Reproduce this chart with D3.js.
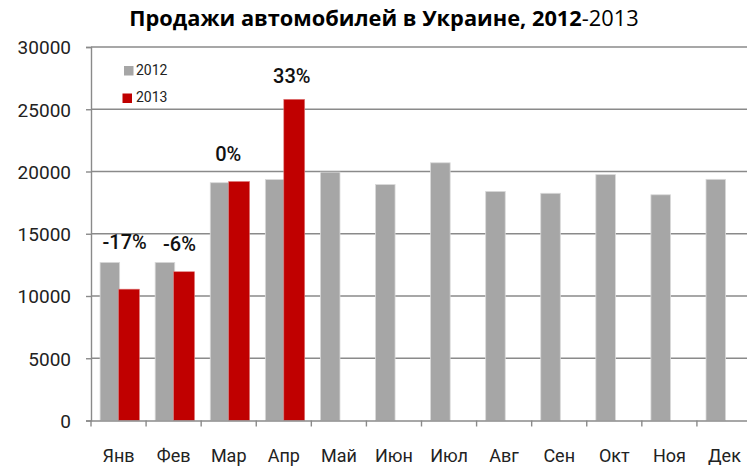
<!DOCTYPE html>
<html>
<head>
<meta charset="utf-8">
<script src="https://cdn.jsdelivr.net/npm/d3@7"></script>
<style>
  body { margin: 0; background: #fff; }
  svg { display: block; }
</style>
</head>
<body>
<div id="chart"></div>
<script>
// Данные
const months = ["Янв", "Фев", "Мар", "Апр", "Май", "Июн", "Июл", "Авг", "Сен", "Окт", "Ноя", "Дек"];
const sales2012 = [12700, 12700, 19100, 19350, 19950, 18950, 20700, 18400, 18250, 19750, 18130, 19370];
const sales2013 = [10550, 11950, 19200, 25800];
const changeLabels = ["-17%", "-6%", "0%", "33%"];
const yTicks = [0, 5000, 10000, 15000, 20000, 25000, 30000];

// Размеры
const W = 747, H = 470;
const plotLeft = 91, plotRight = 752, plotTop = 47, plotBottom = 420.5;

// ручные сдвиги подписей процентов (dx от начала категории, dy над баром)
const labelNudge = [[33.7, 13.7], [33.4, 11], [27.1, 20.3], [35.5, 16.6]];

const svg = d3.select("#chart")
    .append("svg")
    .attr("width", W)
    .attr("height", H);

const x = d3.scaleBand()
    .domain(months)
    .range([plotLeft, plotRight])
    .padding(0);

const y = d3.scaleLinear()
    .domain([0, 30000])
    .range([plotBottom, plotTop]);

const bw = x.bandwidth();

// Сетка
svg.append("g")
    .selectAll("line")
    .data(yTicks.filter(d => d > 0))
    .enter()
    .append("line")
    .attr("x1", plotLeft)
    .attr("x2", W)
    .attr("y1", d => y(d))
    .attr("y2", d => y(d))
    .attr("stroke", "#8a8a8a")
    .attr("stroke-width", 1.4);

// Бары 2012
svg.selectAll(".bar2012")
    .data(sales2012)
    .enter()
    .append("rect")
    .attr("class", "bar2012")
    .attr("x", (d, i) => x(months[i]) + bw * 0.165)
    .attr("width", bw * 0.355)
    .attr("y", d => y(d))
    .attr("height", d => plotBottom - y(d))
    .attr("fill", "#a6a6a6")
    .attr("stroke", "#d9d9d9")
    .attr("stroke-width", 0.8);

// Бары 2013
svg.selectAll(".bar2013")
    .data(sales2013)
    .enter()
    .append("rect")
    .attr("class", "bar2013")
    .attr("x", (d, i) => x(months[i]) + bw * 0.5)
    .attr("width", bw * 0.38)
    .attr("y", d => y(d))
    .attr("height", d => plotBottom - y(d))
    .attr("fill", "#c00000")
    .attr("stroke", "#e08080")
    .attr("stroke-width", 0.6);

// Ось Y
const yAxis = svg.append("g")
    .attr("transform", `translate(${plotLeft},0)`)
    .call(d3.axisLeft(y).tickValues(yTicks).tickSize(5).tickPadding(15).tickFormat(d3.format("d")));
yAxis.select(".domain").attr("stroke", "#8a8a8a").attr("stroke-width", 1.4);
yAxis.selectAll(".tick line").attr("stroke", "#8a8a8a").attr("stroke-width", 1.4);
yAxis.selectAll("text")
    .attr("font-family", "Roboto, sans-serif")
    .attr("font-size", "19px")
    .attr("fill", "#222")
    .attr("dy", "0.36em");

// Ось X
const xAxis = svg.append("g")
    .attr("transform", `translate(0,${plotBottom})`)
    .call(d3.axisBottom(x).tickSize(0).tickPadding(29));
xAxis.select(".domain").attr("stroke", "#8a8a8a").attr("stroke-width", 1.4);
xAxis.selectAll("text")
    .attr("font-family", "Roboto, sans-serif")
    .attr("font-size", "18px")
    .attr("fill", "#222");

// Засечки между категориями
svg.append("g")
    .selectAll("line")
    .data(months)
    .enter()
    .append("line")
    .attr("x1", d => x(d))
    .attr("x2", d => x(d))
    .attr("y1", plotBottom)
    .attr("y2", plotBottom + 6)
    .attr("stroke", "#8a8a8a")
    .attr("stroke-width", 1.4);

// Подписи процентов
svg.selectAll(".pct")
    .data(changeLabels)
    .enter()
    .append("text")
    .attr("class", "pct")
    .attr("x", (d, i) => x(months[i]) + labelNudge[i][0])
    .attr("y", (d, i) => y(Math.max(sales2012[i], sales2013[i])) - labelNudge[i][1])
    .attr("text-anchor", "middle")
    .attr("font-family", "Roboto, sans-serif")
    .attr("font-size", "20px")
    .attr("font-weight", 500)
    .attr("fill", "#111")
    .text(d => d);

// Заголовок
const title = svg.append("text")
    .attr("x", 384)
    .attr("y", 26)
    .attr("text-anchor", "middle")
    .attr("font-family", "'Open Sans', sans-serif")
    .attr("font-size", "21.8px")
    .attr("fill", "#000");
title.append("tspan").attr("font-weight", "bold").text("Продажи автомобилей в Украине, 2012");
title.append("tspan").text("-2013");

// Легенда
const legend = [
    { name: "2012", color: "#a6a6a6", x: 124, y: 66 },
    { name: "2013", color: "#c00000", x: 122.5, y: 93.5 }
];
legend.forEach(l => {
    svg.append("rect")
        .attr("x", l.x)
        .attr("y", l.y)
        .attr("width", 9.5)
        .attr("height", 9.5)
        .attr("fill", l.color);
    svg.append("text")
        .attr("x", 136)
        .attr("y", l.y + 8.5)
        .attr("font-family", "Roboto, sans-serif")
        .attr("font-size", "14px")
        .attr("fill", "#222")
        .text(l.name);
});
</script>
</body>
</html>
